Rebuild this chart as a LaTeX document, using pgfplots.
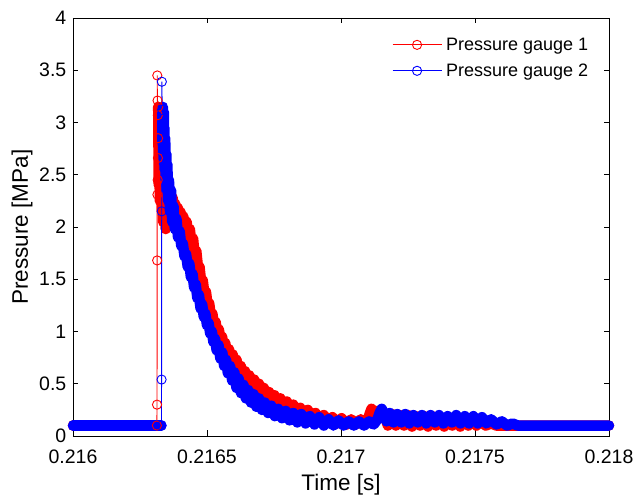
\documentclass[border=0pt]{standalone}
\usepackage{fontspec}
\setmainfont{Liberation Sans}
\usepackage{pgfplots}
\usepackage{pgfplotstable}
\pgfplotsset{compat=1.18}

\definecolor{gOne}{RGB}{255,0,0}
\definecolor{gTwo}{RGB}{0,0,255}

% time in microseconds after 0.216 s, pressure in MPa
\pgfplotstableread{
t p
0 0.10
313 0.10
}\redbase
\pgfplotstableread{
t p
313 0.10
313.5 0.30
314 1.68
314.5 3.45
315 2.31
315.5 3.21
316 2.45
316.5 3.07
317 2.66
317.5 2.85
318 3.15
}\redrise
\pgfplotstableread{
t p
318 3.15
320 2.40
322 3.00
324 2.25
326 2.90
328 2.35
330 2.80
332 2.15
334 2.70
336 2.05
338 2.60
340 2.10
343 2.55
346 1.98
349 2.45
352 2.10
356 2.40
360 2.08
364 2.35
368 2.05
372 2.28
377 2.02
382 2.22
387 2.00
392 2.18
397 1.98
402 2.14
407 1.96
412 2.10
418 1.93
424 2.05
430 1.90
436 1.98
442 1.83
448 1.89
454 1.73
460 1.77
466 1.62
472 1.62
478 1.48
484 1.49
490 1.37
496 1.38
502 1.26
508 1.27
514 1.16
520 1.17
526 1.07
532 1.09
538 1.00
544 1.02
550 0.93
556 0.95
562 0.86
568 0.89
575 0.79
582 0.83
589 0.73
596 0.78
603 0.67
610 0.73
618 0.62
626 0.67
634 0.57
642 0.62
650 0.52
658 0.58
667 0.48
676 0.54
685 0.44
694 0.50
703 0.40
712 0.46
722 0.36
732 0.42
742 0.33
752 0.39
763 0.30
774 0.36
786 0.27
798 0.33
810 0.24
822 0.30
835 0.21
848 0.27
862 0.19
876 0.25
890 0.17
905 0.22
920 0.15
936 0.20
952 0.13
968 0.18
985 0.12
1002 0.17
1020 0.11
1038 0.16
1056 0.11
1074 0.16
1090 0.12
1102 0.17
1108 0.22
1114 0.26
1120 0.24
1128 0.20
1136 0.24
1146 0.18
1160 0.22
1175 0.10
1190 0.21
1205 0.10
1220 0.20
1235 0.10
1250 0.20
1265 0.09
1280 0.19
1295 0.10
1310 0.19
1325 0.09
1340 0.19
1355 0.10
1370 0.18
1385 0.09
1400 0.18
1415 0.10
1430 0.18
1445 0.09
1460 0.17
1475 0.10
1490 0.16
1505 0.10
1520 0.14
1540 0.10
1560 0.12
1580 0.10
2000 0.10
}\reddecay
\pgfplotstableread{
t p
0 0.10
330 0.10
}\bluebase
\pgfplotstableread{
t p
330 0.10
330.5 0.54
331 2.15
331.5 3.39
333 3.12
}\bluerise
\pgfplotstableread{
t p
333 3.12
334 2.80
335 3.15
336 2.70
337 3.05
338 2.65
339 3.10
340 2.60
341 2.95
342 2.55
344 2.85
346 2.45
348 2.70
350 2.35
352 2.60
355 2.25
358 2.45
362 2.15
366 2.35
370 2.05
375 2.20
380 1.98
386 2.08
392 1.90
398 1.96
404 1.82
410 1.84
416 1.72
422 1.74
428 1.62
434 1.65
440 1.52
446 1.55
452 1.42
458 1.45
464 1.32
470 1.35
476 1.22
482 1.26
488 1.14
494 1.17
500 1.06
506 1.08
512 0.98
518 1.00
524 0.90
530 0.93
536 0.82
543 0.87
550 0.74
557 0.80
564 0.67
571 0.73
578 0.60
586 0.67
594 0.53
602 0.61
610 0.46
618 0.55
627 0.41
636 0.49
645 0.36
654 0.44
664 0.32
674 0.40
684 0.28
694 0.36
705 0.25
716 0.32
728 0.22
740 0.29
753 0.19
766 0.26
780 0.17
794 0.24
808 0.15
822 0.22
837 0.13
852 0.21
868 0.12
884 0.19
901 0.11
918 0.18
936 0.10
954 0.16
972 0.10
991 0.15
1010 0.10
1029 0.14
1048 0.10
1067 0.14
1086 0.10
1105 0.14
1122 0.11
1136 0.16
1144 0.22
1152 0.26
1160 0.22
1170 0.14
1182 0.22
1196 0.13
1210 0.21
1225 0.13
1240 0.21
1255 0.12
1270 0.20
1286 0.13
1302 0.20
1318 0.12
1334 0.20
1350 0.13
1366 0.20
1382 0.12
1398 0.19
1414 0.13
1430 0.20
1446 0.12
1462 0.19
1478 0.12
1494 0.19
1510 0.12
1526 0.18
1542 0.12
1560 0.16
1580 0.11
1600 0.14
1620 0.10
1640 0.12
1660 0.10
2000 0.10
}\bluedecay

\begin{document}
\begin{tikzpicture}
\useasboundingbox (-73pt,-61pt) rectangle (562pt,436pt);
\begin{axis}[
  at={(0pt,0pt)}, anchor=south west,
  scale only axis, width=536pt, height=418pt,
  xmin=0, xmax=2000, ymin=0, ymax=4,
  clip=false,
  xtick={0,500,1000,1500,2000},
  xticklabels={0.216,0.2165,0.217,0.2175,0.218},
  ytick={0,0.5,1,1.5,2,2.5,3,3.5,4},
  yticklabels={0,0.5,1,1.5,2,2.5,3,3.5,4},
  tick align=inside,
  major tick length=5.5pt,
  axis line style={line width=0.9pt, black},
  every tick/.style={black, line width=0.9pt},
  tick label style={font=\fontsize{19.5}{23}\selectfont},
  xticklabel style={anchor=base, yshift=-28pt, inner sep=0pt},
  yticklabel style={anchor=east, inner sep=0pt, xshift=-6.5pt},
  xlabel={Time [s]}, ylabel={Pressure [MPa]},
  label style={font=\fontsize{22.5}{27}\selectfont},
  xlabel style={at={(axis description cs:0.5,-0.117)}, anchor=center},
  ylabel style={at={(axis description cs:-0.095,0.5)}, anchor=center},
  legend cell align=left,
  legend style={draw=none, fill=none, at={(axis description cs:0.595,0.960)}, anchor=north west,
    font=\fontsize{18}{21}\selectfont, inner sep=0pt, row sep=6pt, column sep=1pt, nodes={inner sep=3pt}},
  legend image code/.code={\draw[mark repeat=2,mark phase=2,#1] plot coordinates {(0pt,0pt) (24.5pt,0pt) (49pt,0pt)};},
  band/.style={line width=10.5pt, line join=round, line cap=round, no markers, forget plot},
  rise/.style={line width=0.9pt, mark=o, mark size=4.6pt, mark options={line width=0.9pt, solid}},
]
\addplot[gOne, band] table[x=t, y=p] {\redbase};
\addplot[gOne, band] table[x=t, y=p] {\reddecay};
\addplot[gOne, rise] table[x=t, y=p] {\redrise};
\addlegendentry{Pressure gauge 1}
\addplot[gTwo, band] table[x=t, y=p] {\bluebase};
\addplot[gTwo, band] table[x=t, y=p] {\bluedecay};
\addplot[gTwo, rise] table[x=t, y=p] {\bluerise};
\addlegendentry{Pressure gauge 2}
\end{axis}
\end{tikzpicture}
\end{document}
